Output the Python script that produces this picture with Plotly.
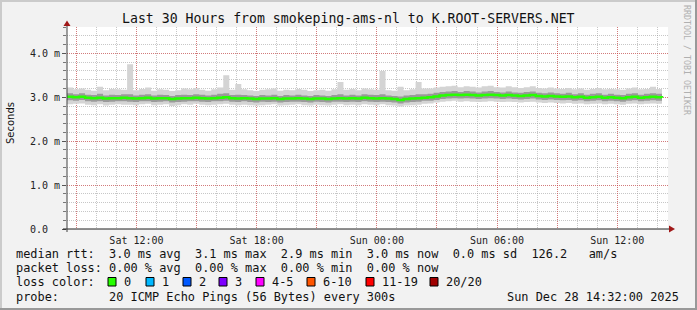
import plotly.graph_objects as go
import pandas as pd

# ---------------- data (milliseconds) ----------------
start_time = "2025-12-27 08:32:00"
end_time = "2025-12-28 14:32:00"
step_minutes = 18

median_ms = [
    3.01, 3.00, 3.01, 2.99, 2.98, 2.99, 2.97, 2.98, 2.98, 2.99,
    2.98, 2.97, 2.98, 2.99, 2.97, 2.98, 2.98, 2.96, 2.97, 2.98,
    2.98, 2.99, 2.98, 2.97, 2.98, 2.99, 3.00, 2.98, 2.97, 2.98,
    2.97, 2.96, 2.97, 2.97, 2.98, 2.96, 2.97, 2.97, 2.98, 2.97,
    2.96, 2.97, 2.97, 2.96, 2.97, 2.98, 2.97, 2.98, 2.97, 2.99,
    2.98, 2.97, 2.98, 2.97, 2.96, 2.94, 2.96, 2.97, 2.98, 2.99,
    3.00, 3.02, 3.04, 3.05, 3.06, 3.05, 3.06, 3.05, 3.04, 3.05,
    3.06, 3.05, 3.04, 3.05, 3.04, 3.03, 3.04, 3.05, 3.03, 3.02,
    3.03, 3.02, 3.01, 3.02, 3.00, 3.01, 2.99, 3.00, 3.01, 2.99,
    3.00, 2.99, 2.98, 3.00, 3.01, 2.99, 3.00, 3.01, 3.00, 2.99,
]
inner_hi_ms = [
    3.09, 3.07, 3.09, 3.06, 3.05, 3.08, 3.04, 3.06, 3.05, 3.07,
    3.07, 3.04, 3.06, 3.07, 3.04, 3.06, 3.05, 3.03, 3.05, 3.06,
    3.05, 3.07, 3.06, 3.04, 3.06, 3.08, 3.09, 3.05, 3.06, 3.05,
    3.04, 3.03, 3.05, 3.04, 3.06, 3.03, 3.05, 3.04, 3.06, 3.04,
    3.03, 3.05, 3.04, 3.03, 3.05, 3.07, 3.04, 3.06, 3.04, 3.07,
    3.06, 3.05, 3.07, 3.04, 3.03, 3.02, 3.04, 3.05, 3.07, 3.07,
    3.08, 3.10, 3.12, 3.13, 3.14, 3.12, 3.14, 3.13, 3.11, 3.13,
    3.14, 3.12, 3.11, 3.13, 3.11, 3.10, 3.12, 3.13, 3.10, 3.09,
    3.11, 3.09, 3.08, 3.10, 3.07, 3.09, 3.06, 3.08, 3.09, 3.06,
    3.08, 3.06, 3.05, 3.08, 3.09, 3.06, 3.08, 3.09, 3.08, 3.06,
]
inner_lo_ms = [
    2.93, 2.92, 2.94, 2.91, 2.90, 2.91, 2.89, 2.90, 2.91, 2.91,
    2.90, 2.89, 2.91, 2.91, 2.89, 2.90, 2.91, 2.88, 2.89, 2.90,
    2.91, 2.91, 2.90, 2.89, 2.91, 2.91, 2.92, 2.90, 2.89, 2.91,
    2.89, 2.88, 2.90, 2.89, 2.90, 2.88, 2.89, 2.90, 2.90, 2.89,
    2.88, 2.90, 2.89, 2.88, 2.90, 2.90, 2.89, 2.90, 2.89, 2.91,
    2.90, 2.89, 2.90, 2.89, 2.88, 2.86, 2.88, 2.89, 2.90, 2.92,
    2.92, 2.94, 2.96, 2.97, 2.98, 2.97, 2.98, 2.97, 2.96, 2.97,
    2.98, 2.97, 2.96, 2.97, 2.96, 2.95, 2.96, 2.97, 2.95, 2.94,
    2.95, 2.94, 2.93, 2.94, 2.92, 2.93, 2.91, 2.92, 2.93, 2.91,
    2.92, 2.91, 2.90, 2.92, 2.93, 2.91, 2.92, 2.93, 2.92, 2.91,
]
smoke_max_ms = [
    3.22, 3.18, 3.20, 3.17, 3.15, 3.24, 3.16, 3.19, 3.18, 3.17,
    3.75, 3.16, 3.19, 3.22, 3.15, 3.18, 3.17, 3.14, 3.16, 3.20,
    3.18, 3.21, 3.17, 3.15, 3.18, 3.22, 3.50, 3.17, 3.30, 3.18,
    3.16, 3.14, 3.17, 3.18, 3.20, 3.15, 3.17, 3.16, 3.19, 3.17,
    3.14, 3.16, 3.17, 3.15, 3.18, 3.35, 3.17, 3.19, 3.16, 3.20,
    3.18, 3.17, 3.60, 3.16, 3.15, 3.24, 3.16, 3.18, 3.35, 3.20,
    3.20, 3.22, 3.24, 3.25, 3.26, 3.23, 3.25, 3.24, 3.22, 3.25,
    3.26, 3.23, 3.22, 3.25, 3.23, 3.21, 3.23, 3.25, 3.21, 3.20,
    3.22, 3.20, 3.19, 3.21, 3.18, 3.20, 3.17, 3.19, 3.21, 3.18,
    3.19, 3.18, 3.17, 3.20, 3.22, 3.18, 3.19, 3.24, 3.19, 3.18,
]
smoke_min_ms = [
    2.84, 2.85, 2.86, 2.83, 2.82, 2.84, 2.81, 2.83, 2.84, 2.83,
    2.83, 2.82, 2.84, 2.85, 2.82, 2.83, 2.84, 2.80, 2.82, 2.84,
    2.83, 2.85, 2.83, 2.82, 2.83, 2.84, 2.85, 2.83, 2.82, 2.83,
    2.82, 2.81, 2.82, 2.83, 2.84, 2.81, 2.82, 2.83, 2.84, 2.82,
    2.81, 2.83, 2.82, 2.81, 2.83, 2.84, 2.82, 2.83, 2.82, 2.84,
    2.83, 2.82, 2.84, 2.82, 2.81, 2.79, 2.81, 2.82, 2.83, 2.85,
    2.86, 2.88, 2.90, 2.91, 2.92, 2.90, 2.91, 2.90, 2.89, 2.90,
    2.91, 2.90, 2.89, 2.90, 2.89, 2.88, 2.89, 2.90, 2.88, 2.87,
    2.88, 2.87, 2.86, 2.87, 2.85, 2.86, 2.84, 2.85, 2.86, 2.84,
    2.85, 2.84, 2.83, 2.85, 2.86, 2.84, 2.85, 2.86, 2.85, 2.84,
]

x_tick_vals = ["2025-12-27 09:00", "2025-12-27 12:00", "2025-12-27 15:00",
               "2025-12-27 18:00", "2025-12-27 21:00", "2025-12-28 00:00",
               "2025-12-28 03:00", "2025-12-28 06:00", "2025-12-28 09:00",
               "2025-12-28 12:00"]
x_tick_text = ["", "Sat 12:00", "", "Sat 18:00", "", "Sun 00:00",
               "", "Sun 06:00", "", "Sun 12:00"]
y_tick_vals = [0, 1, 2, 3, 4]
y_tick_text = ["0.0\u00a0\u00a0", "1.0 m", "2.0 m", "3.0 m", "4.0 m"]

title_text = "Last 30 Hours from smokeping-ams-nl to K.ROOT-SERVERS.NET"
stats_rtt = "median rtt:  3.0 ms avg  3.1 ms max  2.9 ms min  3.0 ms now  0.0 ms sd  126.2   am/s"
stats_loss = "packet loss: 0.00 % avg  0.00 % max  0.00 % min  0.00 % now"
loss_label = "loss color:"
loss_names = ["0", "1", "2", "3", "4-5", "6-10", "11-19", "20/20"]
loss_colors = ["#26ff00", "#00b8ff", "#0059ff", "#7e00ff", "#ff00ff",
               "#ff5500", "#ff0000", "#a00000"]
probe_text = "probe:       20 ICMP Echo Pings (56 Bytes) every 300s"
date_text = "Sun Dec 28 14:32:00 2025"
watermark = "RRDTOOL / TOBI OETIKER"

# ---------------- geometry helpers (pixel -> paper) ----------------
W, H = 697, 310
L, R, T, B = 67, 29, 27, 81
PW, PH = W - L - R, H - T - B


def px(x):
    return (x - L) / PW


def py(y):
    return (H - B - y) / PH


def nb(s):
    return s.replace(" ", "\u00a0")


times = pd.date_range(start_time, periods=len(median_ms), freq=f"{step_minutes}min")

fig = go.Figure()
# outer smoke
fig.add_trace(go.Scatter(x=times, y=smoke_min_ms, mode="lines", line=dict(width=0, shape="hv"),
                         hoverinfo="skip"))
fig.add_trace(go.Scatter(x=times, y=smoke_max_ms, mode="lines", line=dict(width=0, shape="hv"),
                         fill="tonexty", fillcolor="#d4d4d4", hoverinfo="skip"))
# inner smoke
fig.add_trace(go.Scatter(x=times, y=inner_lo_ms, mode="lines", line=dict(width=0, shape="hv"),
                         hoverinfo="skip"))
fig.add_trace(go.Scatter(x=times, y=inner_hi_ms, mode="lines", line=dict(width=0, shape="hv"),
                         fill="tonexty", fillcolor="#9a9a9a", hoverinfo="skip"))
# median
fig.add_trace(go.Scatter(x=times, y=median_ms, mode="lines",
                         line=dict(color=loss_colors[0], width=2.5, shape="hv")))

mono = "DejaVu Sans Mono"
grid_minor = "rgba(143,143,143,0.5)"
grid_major = "rgba(222,48,48,0.5)"

fig.update_layout(
    width=W, height=H, autosize=False,
    margin=dict(l=L, r=R, t=T, b=B, pad=0),
    paper_bgcolor="#f2f2f2", plot_bgcolor="#ffffff",
    showlegend=False,
    font=dict(family=mono, size=10, color="#222222"),
    xaxis=dict(
        type="date", range=[start_time, end_time],
        tickmode="array", tickvals=x_tick_vals, ticktext=x_tick_text,
        tickfont=dict(family=mono, size=10, color="#222222"),
        ticks="outside", ticklen=2, tickcolor="rgba(0,0,0,0)",
        showgrid=True, gridcolor=grid_major, griddash="1px,1px", gridwidth=1,
        minor=dict(dtick=3600000, tick0="2025-12-27 00:00", showgrid=True,
                   gridcolor=grid_minor, griddash="1px,1px", ticks=""),
        showline=False, zeroline=False, fixedrange=True,
    ),
    yaxis=dict(
        range=[0, 4.6],
        tickmode="array", tickvals=y_tick_vals, ticktext=y_tick_text,
        tickfont=dict(family=mono, size=10, color="#222222"),
        ticks="outside", ticklen=4, tickcolor="#555555",
        showgrid=True, gridcolor=grid_major, griddash="1px,1px", gridwidth=1,
        minor=dict(dtick=0.2, tick0=0, showgrid=True, gridcolor=grid_minor,
                   griddash="1px,1px", ticks="outside", ticklen=3, tickcolor="#777777"),
        showline=False, zeroline=False, fixedrange=True,
    ),
)

shapes = []
# frame shading
shapes.append(dict(type="rect", xref="paper", yref="paper", x0=px(0), x1=px(W), y0=py(0), y1=py(2),
                   fillcolor="#cbcbcb", line=dict(width=0), layer="below"))
shapes.append(dict(type="rect", xref="paper", yref="paper", x0=px(0), x1=px(2), y0=py(0), y1=py(H),
                   fillcolor="#cbcbcb", line=dict(width=0), layer="below"))
shapes.append(dict(type="rect", xref="paper", yref="paper", x0=px(0), x1=px(W), y0=py(H - 2), y1=py(H),
                   fillcolor="#999999", line=dict(width=0), layer="below"))
shapes.append(dict(type="rect", xref="paper", yref="paper", x0=px(W - 2), x1=px(W), y0=py(0), y1=py(H),
                   fillcolor="#999999", line=dict(width=0), layer="below"))
# axes
shapes.append(dict(type="line", xref="paper", yref="paper", x0=px(L - 4), x1=px(670), y0=0, y1=0,
                   line=dict(color="#202020", width=1)))
shapes.append(dict(type="line", xref="paper", yref="paper", x0=0, x1=0, y0=py(232), y1=py(24),
                   line=dict(color="#404040", width=1)))
# arrows
shapes.append(dict(type="path", xref="paper", yref="paper",
                   path=f"M {px(L)},{py(20.5)} L {px(L - 3.5)},{py(26)} L {px(L + 3.5)},{py(26)} Z",
                   fillcolor="#a01818", line=dict(width=0)))
shapes.append(dict(type="path", xref="paper", yref="paper",
                   path=f"M {px(675)},{py(229)} L {px(669)},{py(225.5)} L {px(669)},{py(232.5)} Z",
                   fillcolor="#a01818", line=dict(width=0)))

legend_box_x = [108, 146, 183, 219, 256, 307, 366, 430]
for bx, col in zip(legend_box_x, loss_colors):
    shapes.append(dict(type="rect", xref="paper", yref="paper",
                       x0=px(bx), x1=px(bx + 8), y0=py(286), y1=py(277.5),
                       fillcolor=col, line=dict(color="#000000", width=1)))
fig.update_layout(shapes=shapes)

ann = []
ann.append(dict(text=nb(title_text), x=px(348), y=py(19), xref="paper", yref="paper",
                showarrow=False, xanchor="center", yanchor="middle",
                font=dict(family=mono, size=13.2, color="#111111")))
ann.append(dict(text="Seconds", x=px(10), y=py(123), xref="paper", yref="paper",
                showarrow=False, xanchor="center", yanchor="middle", textangle=-90,
                font=dict(family="DejaVu Sans", size=10, color="#111111")))
ann.append(dict(text=watermark, x=px(687), y=py(60), xref="paper", yref="paper",
                showarrow=False, xanchor="center", yanchor="middle", textangle=90,
                font=dict(family=mono, size=8.3, color="#b0b0b0")))
leg_font = dict(family=mono, size=11.9, color="#111111")
for txt, yy in [(stats_rtt, 254), (stats_loss, 268), (loss_label, 282), (probe_text, 296.5)]:
    ann.append(dict(text=nb(txt), x=px(14), y=py(yy), xref="paper", yref="paper",
                    showarrow=False, xanchor="left", yanchor="middle", font=leg_font))
for bx, name in zip(legend_box_x, loss_names):
    ann.append(dict(text=name, x=px(bx + 14), y=py(282), xref="paper", yref="paper",
                    showarrow=False, xanchor="left", yanchor="middle", font=leg_font))
ann.append(dict(text=nb(date_text), x=px(681), y=py(296.5), xref="paper", yref="paper",
                showarrow=False, xanchor="right", yanchor="middle", font=leg_font))
fig.update_layout(annotations=ann)

fig.write_html("out.html")
